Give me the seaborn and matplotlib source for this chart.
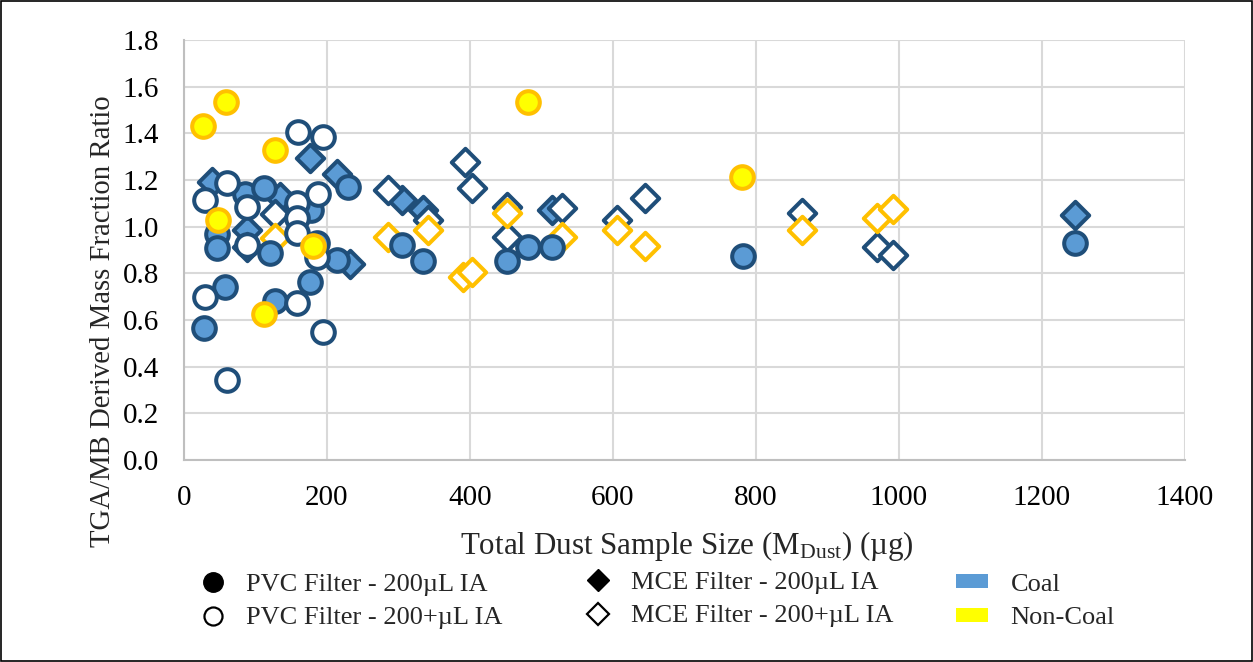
import matplotlib
matplotlib.use("Agg")
import matplotlib.pyplot as plt
import seaborn as sns
import pandas as pd
from matplotlib.lines import Line2D
from matplotlib.patches import Patch, Rectangle

# ---- data ----
pvc200_coal_x = [28, 57, 46, 46, 85, 112, 120, 127, 176, 186, 214, 229, 178, 305, 334, 452, 481, 515, 782, 1246]
pvc200_coal_y = [0.565, 0.74, 0.97, 0.91, 1.14, 1.165, 0.887, 0.68, 0.763, 0.93, 0.857, 1.17, 1.07, 0.92, 0.853, 0.853, 0.913, 0.913, 0.874, 0.93]

pvc200p_coal_x = [159, 194, 29, 60, 88, 187, 158, 158, 158, 88, 186, 29, 158, 194, 60]
pvc200p_coal_y = [1.406, 1.385, 1.114, 1.187, 1.085, 1.14, 1.10, 1.036, 0.971, 0.92, 0.87, 0.70, 0.672, 0.55, 0.343]

pvc_noncoal_x = [27, 59, 127, 47, 180, 112, 481, 780]
pvc_noncoal_y = [1.43, 1.535, 1.33, 1.03, 0.917, 0.626, 1.535, 1.213]

mce200_coal_x = [176, 214, 305, 334, 515, 1246, 232, 88, 134, 39]
mce200_coal_y = [1.294, 1.225, 1.115, 1.07, 1.07, 1.05, 0.84, 0.985, 1.127, 1.19]

mce200p_coal_x = [285, 341, 393, 403, 452, 452, 529, 605, 645, 864, 969, 992, 127, 88]
mce200p_coal_y = [1.157, 1.03, 1.277, 1.166, 1.085, 0.956, 1.08, 1.03, 1.123, 1.06, 0.913, 0.878, 1.053, 0.913]

mce_noncoal_x = [285, 341, 390, 403, 452, 529, 605, 645, 864, 969, 992, 127]
mce_noncoal_y = [0.956, 0.985, 0.785, 0.806, 1.06, 0.956, 0.987, 0.917, 0.986, 1.037, 1.075, 0.95]

x_ticks = [0, 200, 400, 600, 800, 1000, 1200, 1400]
y_ticks = [0.0, 0.2, 0.4, 0.6, 0.8, 1.0, 1.2, 1.4, 1.6, 1.8]

legend_labels = ["PVC Filter - 200\u00b5L IA", "PVC Filter - 200+\u00b5L IA",
                 "MCE Filter - 200\u00b5L IA", "MCE Filter - 200+\u00b5L IA",
                 "Coal", "Non-Coal"]

# ---- style ----
sns.set_style("white")
plt.rcParams['font.family'] = ['Liberation Serif', 'DejaVu Serif']
plt.rcParams['mathtext.default'] = 'regular'

COAL_FILL = "#5B9BD5"
COAL_EDGE = "#1F4E79"
NC_FILL = "#FFFF00"
NC_EDGE = "#FFC000"

fig = plt.figure(figsize=(12.53, 6.62), dpi=100)
ax = fig.add_axes([0.1468, 0.3051, 0.7989, 0.6345])

CIRC_S = 265
DIA_S = 195
LW = 2.9

def draw(xs, ys, marker, face, edge, s):
    df = pd.DataFrame({"x": xs, "y": ys})
    sns.scatterplot(data=df, x="x", y="y", ax=ax, marker=marker, s=s,
                    color=face, edgecolor=edge, linewidth=LW, zorder=3, legend=False)

draw(mce200_coal_x, mce200_coal_y, "D", COAL_FILL, COAL_EDGE, DIA_S)
draw(mce200p_coal_x, mce200p_coal_y, "D", "white", COAL_EDGE, DIA_S)
draw(mce_noncoal_x, mce_noncoal_y, "D", "white", NC_EDGE, DIA_S)
draw(pvc200_coal_x, pvc200_coal_y, "o", COAL_FILL, COAL_EDGE, CIRC_S)
draw(pvc200p_coal_x, pvc200p_coal_y, "o", "white", COAL_EDGE, CIRC_S)
draw(pvc_noncoal_x, pvc_noncoal_y, "o", NC_FILL, NC_EDGE, CIRC_S)

ax.set_xlim(0, 1400)
ax.set_ylim(0, 1.8)
ax.set_xticks(x_ticks)
ax.set_yticks(y_ticks)
ax.set_yticklabels([f"{v:.1f}" for v in y_ticks])
ax.set_xticklabels([str(v) for v in x_ticks])
ax.tick_params(axis='both', labelsize=21, length=0, colors='black')
ax.tick_params(axis='y', pad=18)
ax.tick_params(axis='x', pad=18)
ax.grid(True, color="#D9D9D9", linewidth=1.5)
ax.set_axisbelow(True)
for sp in ["top", "right"]:
    ax.spines[sp].set_visible(False)
for sp in ["left", "bottom"]:
    ax.spines[sp].set_color("#BFBFBF")
    ax.spines[sp].set_linewidth(1.5)

ax.set_xlabel("Total Dust Sample Size (M$_{Dust}$) (\u00b5g)", fontsize=22.3)
ax.set_ylabel("TGA/MB Derived Mass Fraction Ratio", fontsize=20.7)
ax.xaxis.set_label_coords(0.5025, -0.205)
ax.xaxis.label.set_va('center')
ax.yaxis.set_label_coords(-0.081, 0.331)
ax.yaxis.label.set_va('center')
ax.yaxis.label.set_ha('center')

h_pvc = [
    Line2D([], [], marker='o', linestyle='none', markerfacecolor='black', markeredgecolor='black', markersize=14),
    Line2D([], [], marker='o', linestyle='none', markerfacecolor='white', markeredgecolor='black', markersize=13, markeredgewidth=1.6),
]
h_mce = [
    Line2D([], [], marker='D', linestyle='none', markerfacecolor='black', markeredgecolor='black', markersize=11.5),
    Line2D([], [], marker='D', linestyle='none', markerfacecolor='white', markeredgecolor='black', markersize=11, markeredgewidth=1.6),
]
h_mat = [
    Patch(facecolor=COAL_FILL, edgecolor='none'),
    Patch(facecolor=NC_FILL, edgecolor='none'),
]

common = dict(loc='center left', frameon=False, fontsize=19, borderpad=0,
              borderaxespad=0, labelspacing=0.45, handleheight=0.45)
leg1 = fig.legend(h_pvc, legend_labels[0:2], bbox_to_anchor=(200 / 1253, 1 - 601.5 / 662),
                  handlelength=1.0, handletextpad=0.75, **common)
leg2 = fig.legend(h_mce, legend_labels[2:4], bbox_to_anchor=(585 / 1253, 1 - 599.5 / 662),
                  handlelength=1.0, handletextpad=0.75, **common)
leg3 = fig.legend(h_mat, legend_labels[4:6], bbox_to_anchor=(956 / 1253, 1 - 601.5 / 662),
                  handlelength=1.2, handletextpad=0.87, **common)

fig.patches.append(Rectangle((0.0008, 0.0015), 0.9984, 0.997, transform=fig.transFigure,
                             fill=False, edgecolor='black', linewidth=1.2))

fig.savefig("out.png", dpi=100)
